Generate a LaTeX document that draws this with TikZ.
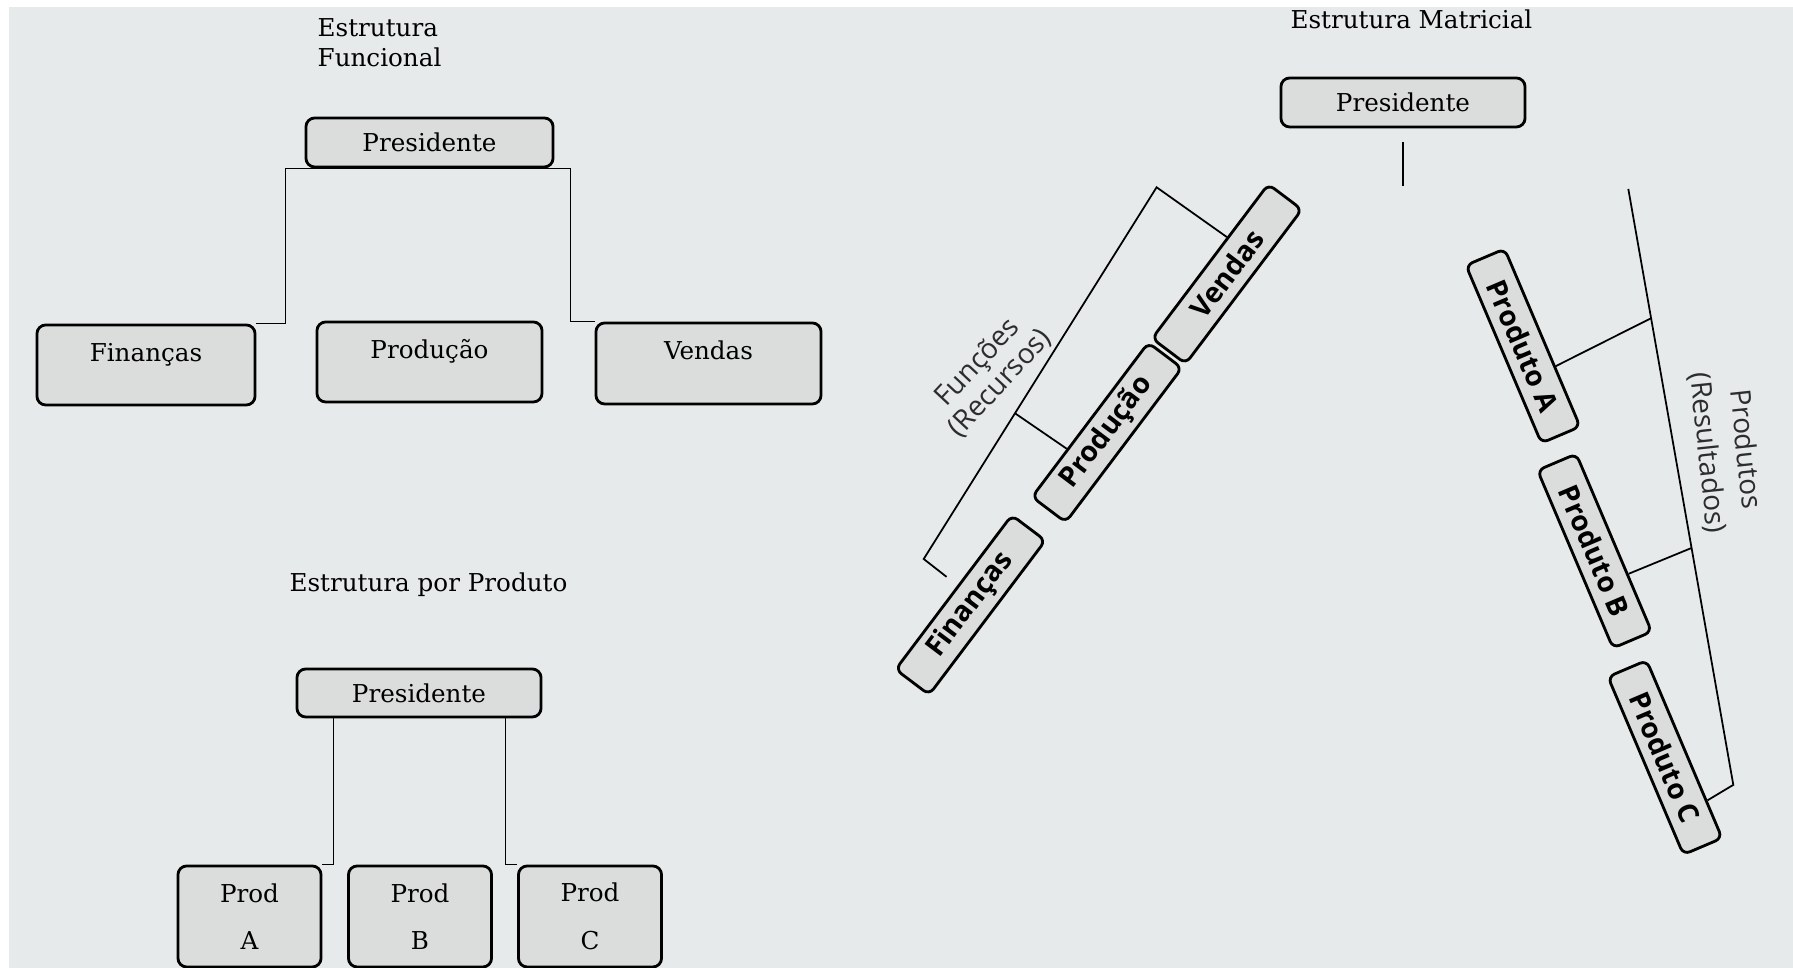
\documentclass[tikz,border=0pt]{standalone}
\usepackage{fontspec}
\setmainfont{DejaVu Serif}
\newfontfamily\orgsans{Open Sans}
\usetikzlibrary{calc}
\definecolor{org-bg}{RGB}{231,234,234}
\definecolor{org-box}{RGB}{219,220,220}
\definecolor{org-ink}{RGB}{45,45,45}

\begin{document}
\begin{tikzpicture}[x=0.01cm, y=-0.01cm,
    caixa/.style={draw, line width=0.8pt, rounded corners=2.5pt, fill=org-box, inner sep=0pt,
        font=\fontsize{7}{8.5}\selectfont},
    caixarot/.style={draw, line width=0.8pt, rounded corners=2pt, fill=org-box, inner sep=0pt,
        minimum width=1.93cm, minimum height=0.42cm, font=\orgsans\bfseries\fontsize{8}{9.6}\selectfont},
    titulo/.style={inner sep=0pt, font=\fontsize{7}{8.5}\selectfont},
    rotlabel/.style={inner sep=0pt, text=org-ink, align=center, font=\orgsans\fontsize{8}{9.6}\selectfont},
    linha/.style={line width=0.5pt}]
    \useasboundingbox (0,0) rectangle (1793,968);
    \fill[white] (0,0) rectangle (1793,968);
    \fill[org-bg] (9,7) rectangle (1793,968);

    % estrutura funcional
    \node[titulo, align=left, anchor=west] (tfun) at (317,43) {Estrutura\\Funcional};
    \node[caixa, minimum width=2.47cm, minimum height=0.49cm] (fpres) at (429.5,142.5) {Presidente};
    \node[caixa, minimum width=2.18cm, minimum height=0.80cm, text height=6pt, text depth=8pt] (ffin) at (146,365) {Finanças};
    \node[caixa, minimum width=2.25cm, minimum height=0.80cm, text height=6pt, text depth=8pt] (fprd) at (429.5,362) {Produção};
    \node[caixa, minimum width=2.25cm, minimum height=0.81cm, text height=6pt, text depth=8pt] (fven) at (708.5,363.5) {Vendas};
    \draw[linha] (ffin.north east) -| ([xshift=-0.19cm]fpres.south west)
        -- ([xshift=0.16cm]fpres.south east) |- (fven.north west);

    % estrutura por produto
    \node[titulo] (tprod) at (428.5,585) {Estrutura por Produto};
    \node[caixa, minimum width=2.44cm, minimum height=0.48cm] (ppres) at (419,693) {Presidente};
    \foreach \nome/\cx/\letra in {prA/249.5/A, prB/420/B, prC/590/C}
        \node[caixa, minimum width=1.43cm, minimum height=1.01cm, align=center] (\nome) at (\cx,916.5) {Prod\\[5pt]\letra};
    \draw[linha] ([xshift=0.38cm]ppres.south west) |- (prA.north east);
    \draw[linha] ([xshift=-0.37cm]ppres.south east) |- (prC.north west);

    % estrutura matricial
    \node[titulo] (tmat) at (1411.5,19) {Estrutura Matricial};
    \node[caixa, minimum width=2.44cm, minimum height=0.49cm] (mpres) at (1403,102.5) {Presidente};
    \draw[linha] ([yshift=-0.14cm]mpres.south) -- ++(0,44);

    \node[caixarot, rotate=53] (mven) at (1227,274) {Vendas};
    \node[caixarot, rotate=53] (mprd) at (1107,432.5) {Produção};
    \node[caixarot, rotate=53] (mfin) at (970.5,605) {Finanças};
    \coordinate (ltop) at (1156.6,187.3);
    \coordinate (lbot) at (923.7,559);
    \coordinate (lfoot) at ($(mfin.north east)!0.46!(mfin.north west)$);
    \draw[linha] ($(mven.north east)!0.35!(mven.north west)$) -- (ltop) -- (lbot) -- ($(lbot)!0.68!(lfoot)$);
    \draw[linha] ($(ltop)!0.608!(lbot)$) -- ($(mprd.north east)!0.69!(mprd.north west)$);
    \node[rotlabel, rotate=47] (lfun) at (989,373) {Funções\\[-0.8pt](Recursos)};

    \node[caixarot, rotate=-67] (mpa) at (1523,346) {Produto A};
    \node[caixarot, rotate=-67] (mpb) at (1594.6,551) {Produto B};
    \node[caixarot, rotate=-67] (mpc) at (1665,757.5) {Produto C};
    \coordinate (rtop) at (1628.3,188.9);
    \coordinate (rbot) at (1733.3,784.9);
    \draw[linha] (rtop) -- (rbot) -- ($(mpc.north west)!0.786!(mpc.north east)$);
    \draw[linha] ($(rtop)!0.217!(rbot)$) -- ($(mpa.north west)!0.66!(mpa.north east)$);
    \draw[linha] ($(rtop)!0.6025!(rbot)$) -- ($(mpb.north west)!0.675!(mpb.north east)$);
    \node[rotlabel, rotate=-84] (lres) at (1726,451) {Produtos\\[1.2pt](Resultados)};
\end{tikzpicture}
\end{document}
